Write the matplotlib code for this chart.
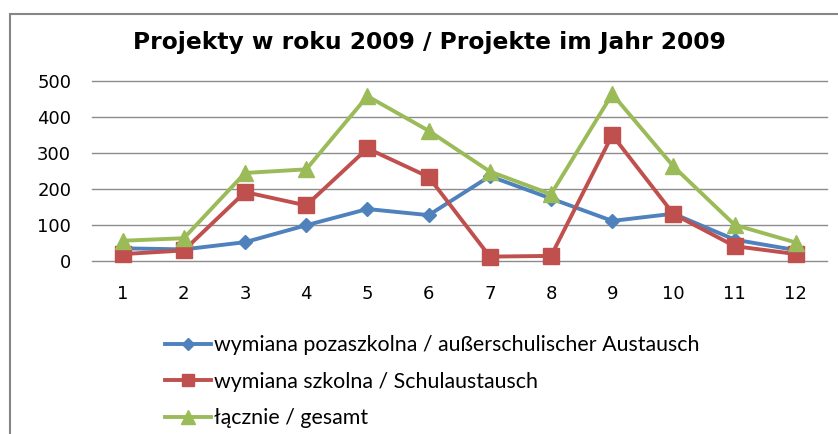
import matplotlib
matplotlib.use("Agg")
import matplotlib.pyplot as plt
from matplotlib.patches import Rectangle

months = [1, 2, 3, 4, 5, 6, 7, 8, 9, 10, 11, 12]
pozaszkolna = [36, 33, 53, 100, 145, 128, 236, 174, 112, 132, 60, 31]
szkolna = [20, 30, 192, 155, 313, 234, 13, 15, 350, 131, 42, 20]
lacznie = [57, 64, 245, 255, 458, 362, 249, 186, 464, 263, 101, 52]
labels = ["wymiana pozaszkolna / außerschulischer Austausch",
          "wymiana szkolna / Schulaustausch",
          "łącznie / gesamt"]
title = "Projekty w roku 2009 / Projekte im Jahr 2009"
yticks = [0, 100, 200, 300, 400, 500]

W, H = 838, 434
fig = plt.figure(figsize=(W / 100, H / 100), dpi=100)

# outer chart border (left and top visible)
fig.patches.append(Rectangle((10 / W, -0.2), 1.3, 1.2 - 14 / H,
                             transform=fig.transFigure, fill=False,
                             edgecolor="#868686", linewidth=1.5))

ax = fig.add_axes([92 / W, 1 - 261.3 / H, (826.5 - 92) / W, (261.3 - 81) / H])
ax.set_xlim(0.5, 12.5)
ax.set_ylim(0, 500)
for s in ax.spines.values():
    s.set_visible(False)
ax.set_yticks(yticks)
ax.set_xticks(months)
ax.yaxis.grid(True, color="#8c8c8c", linewidth=1.0)
for gl in ax.get_ygridlines():
    gl.set_clip_on(False)
ax.set_axisbelow(True)
ax.tick_params(axis="both", length=0, labelsize=13, colors="#000000")
ax.tick_params(axis="x", pad=17)
ax.tick_params(axis="y", pad=15)
for lab in ax.get_xticklabels() + ax.get_yticklabels():
    lab.set_fontfamily("DejaVu Sans")

h1, = ax.plot(months, pozaszkolna, color="#4F81BD", lw=2.8, marker="D",
              ms=7.5, clip_on=False, zorder=3)
h2, = ax.plot(months, szkolna, color="#C0504D", lw=2.8, marker="s",
              ms=11, clip_on=False, zorder=3)
h3, = ax.plot(months, lacznie, color="#9BBB59", lw=2.8, marker="^",
              ms=12, clip_on=False, zorder=3)

fig.text(429 / W, 1 - 43 / H, title, ha="center", va="center",
         fontsize=16.8, fontweight="bold", family="DejaVu Sans")

leg = fig.legend([h1, h2, h3], labels, loc="upper left",
                 bbox_to_anchor=(165 / W, 1 - 335 / H), frameon=False,
                 prop={"family": "Lato", "size": 15.4}, handlelength=2.15,
                 handletextpad=0.15, labelspacing=0.78, borderpad=0,
                 borderaxespad=0, markerscale=0.85)

fig.savefig("out.png", dpi=100)
